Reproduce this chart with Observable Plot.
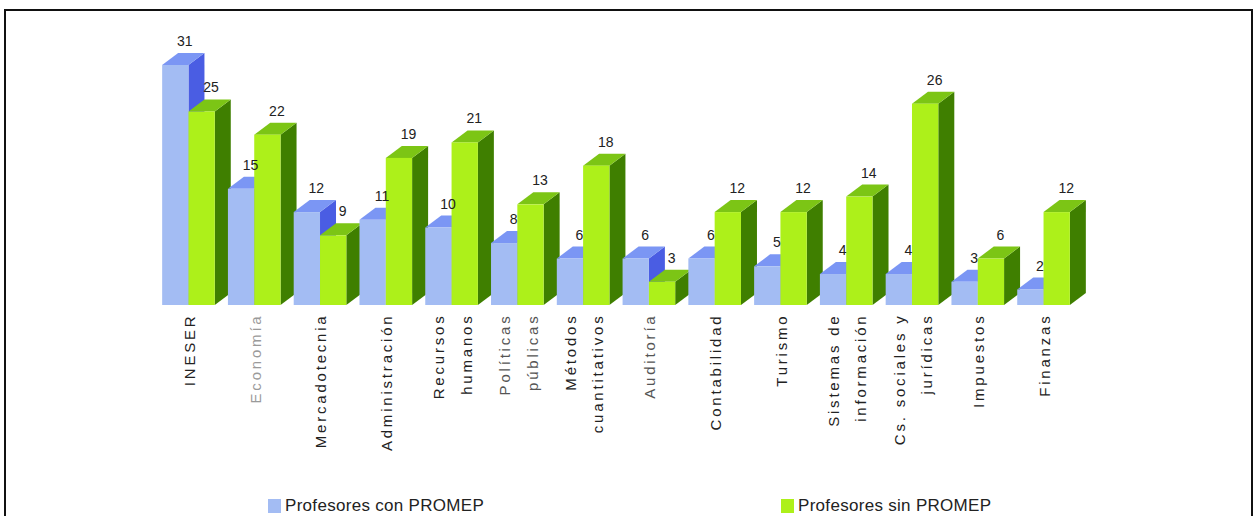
<!DOCTYPE html>
<html>
<head>
<meta charset="utf-8">
<script src="https://cdn.jsdelivr.net/npm/d3@7"></script>
<script src="https://cdn.jsdelivr.net/npm/@observablehq/plot@0.6"></script>
<style>
  html, body { margin: 0; padding: 0; background: #fff; overflow: hidden; }
  body { width: 1257px; height: 516px; position: relative; font-family: "Liberation Sans", Arial, sans-serif; }
  #frame { position: absolute; left: 4px; top: 9px; width: 1245px; height: 600px; border: 2px solid #111; pointer-events: none; }
  #chart svg { display: block; }
  #legend { position: relative; height: 26px; margin-top: 3px; font-size: 17px; letter-spacing: 0.3px; color: #222; }
  .item { position: absolute; top: 0; display: flex; align-items: center; height: 26px; }
  .sw { width: 13px; height: 14px; margin-right: 4px; }
</style>
</head>
<body>
<div id="chart"></div>
<div id="legend"></div>
<div id="frame"></div>
<script>
const categories = ["INESER", "Economía", "Mercadotecnia", "Administración", "Recursos\nhumanos", "Políticas\npúblicas", "Métodos\ncuantitativos", "Auditoría", "Contabilidad", "Turismo", "Sistemas de\ninformación", "Cs. sociales y\njurídicas", "Impuestos", "Finanzas"];
const conPromep = [31, 15, 12, 11, 10, 8, 6, 6, 6, 5, 4, 4, 3, 2];
const sinPromep = [25, 22, 9, 19, 21, 13, 18, 3, 12, 12, 14, 26, 6, 12];
const seriesNames = ["Profesores con PROMEP", "Profesores sin PROMEP"];

const colors = {
  blue: {front: "#a3bcf3", top: "#7b96f4", side: "#4a5de3"},
  green: {front: "#adf01a", top: "#7cc515", side: "#3f7f00"}
};
const DX = 16, DY = 12;

const rowsCon = categories.map((c, i) => ({cat: c, value: conPromep[i]}));
const rowsSin = categories.map((c, i) => ({cat: c, value: sinPromep[i]}));

function faces(index, scales) {
  const x = scales.x, y = scales.y;
  let bw;
  if (typeof x.bandwidth === "function") bw = x.bandwidth();
  else if (scales.scales && scales.scales.x && scales.scales.x.bandwidth) bw = scales.scales.x.bandwidth;
  else bw = (x(categories[1]) - x(categories[0])) * 0.8;
  const half = bw / 2;
  const g = d3.create("svg:g");
  categories.forEach((c, i) => {
    [[conPromep[i], 0, colors.blue], [sinPromep[i], 1, colors.green]].forEach(([v, k, col]) => {
      const x0 = x(c) + k * half, x1 = x0 + half, y0 = y(0), yv = y(v);
      g.append("path")
        .attr("d", `M${x1},${yv}L${x1 + DX},${yv - DY}L${x1 + DX},${y0 - DY}L${x1},${y0}Z`)
        .attr("fill", col.side);
      g.append("path")
        .attr("d", `M${x0},${yv}L${x0 + DX},${yv - DY}L${x1 + DX},${yv - DY}L${x1},${yv}Z`)
        .attr("fill", col.top);
    });
  });
  return g.node();
}

const W = 1257, H = 490;
const marginLeft = 149, marginRight = 174;
const step = (W - marginLeft - marginRight) / 14.2;
const half = step * 0.8 / 2;

const plot = Plot.plot({
  width: W,
  height: H,
  marginLeft, marginRight,
  marginTop: 65,
  marginBottom: H - 305,
  style: {fontFamily: "'Liberation Sans', Arial, sans-serif", background: "transparent"},
  x: {type: "band", domain: categories, paddingInner: 0.2, paddingOuter: 0.2, align: 0.5, round: false, axis: null},
  y: {domain: [0, 31], axis: null},
  marks: [
    faces,
    Plot.barY(rowsCon, {x: "cat", y: "value", fill: colors.blue.front, insetRight: half}),
    Plot.barY(rowsSin, {x: "cat", y: "value", fill: colors.green.front, insetLeft: half}),
    Plot.text(rowsCon, {x: "cat", y: "value", text: d => String(d.value), dx: -half / 2 + 9, dy: -24, fontSize: 14, fill: "#222"}),
    Plot.text(rowsSin, {x: "cat", y: "value", text: d => String(d.value), dx: half / 2 + 9, dy: -24, fontSize: 14, fill: "#222"}),
    Plot.text(categories, {
      x: d => d, y: () => 0, text: d => d,
      rotate: -90, textAnchor: "end", lineAnchor: "middle", lineHeight: 1.85,
      dx: -3, dy: 8, fontSize: 15,
      fill: d => d === "Economía" ? "#9a9a9a" : (d.startsWith("Políticas") || d === "Auditoría" ? "#555" : "#222")
    })
  ]
});
document.getElementById("chart").appendChild(plot);
const textGroups = plot.querySelectorAll('g[aria-label="text"]');
if (textGroups.length) textGroups[textGroups.length - 1].setAttribute("letter-spacing", "2.8");

const legend = document.getElementById("legend");
[[seriesNames[0], colors.blue.front, 268], [seriesNames[1], colors.green.front, 781]].forEach(([name, col, left]) => {
  const it = document.createElement("div");
  it.className = "item";
  it.style.left = left + "px";
  const sw = document.createElement("span");
  sw.className = "sw";
  sw.style.background = col;
  const tx = document.createElement("span");
  tx.textContent = name;
  it.appendChild(sw);
  it.appendChild(tx);
  legend.appendChild(it);
});
</script>
</body>
</html>
